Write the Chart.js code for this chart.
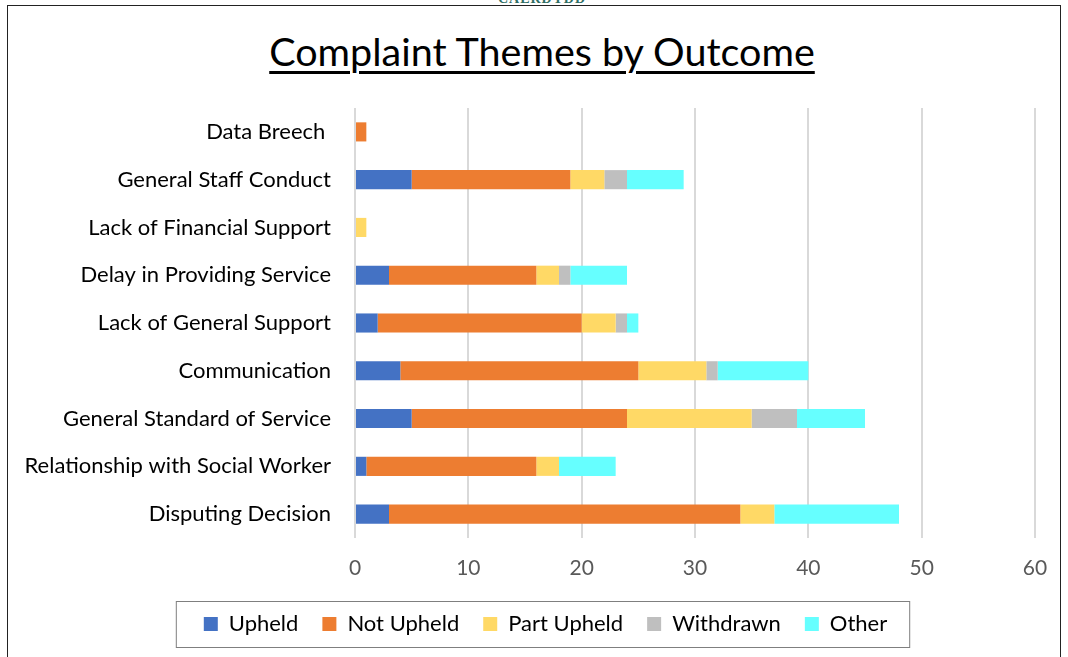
<!DOCTYPE html>
<html>
<head>
<meta charset="utf-8">
<script src="https://cdn.jsdelivr.net/npm/chart.js@4"></script>
<style>
  body { margin: 0; background: #fff; font-family: Lato, sans-serif; }
  #wrap { position: relative; width: 1068px; height: 657px; overflow: hidden; }
  #frame { position: absolute; left: 7px; top: 5px; width: 1052px; height: 700px; border: 1.5px solid #222; }
  #org { position: absolute; left: 0; width: 1084px; top: -9px; text-align: center; font-family: "Liberation Serif", serif; font-size: 14px; font-weight: bold; color: #2f6e64; letter-spacing: 1px; }
  #title { position: absolute; left: 0; width: 1084px; top: 27px; text-align: center; font-size: 39.5px; color: #000; text-decoration: underline; text-decoration-thickness: 3px; text-underline-offset: 5px; }
  canvas { position: absolute; left: 0; top: 0; }
</style>
</head>
<body>
<div id="wrap">
  <div id="org">CAERDYDD</div>
  <div id="frame"></div>
  <div id="title">Complaint Themes by Outcome</div>
  <canvas id="outcomeChart" width="1068" height="657"></canvas>
</div>
<script>
const categories = ['Data Breech ', 'General Staff Conduct', 'Lack of Financial Support', 'Delay in Providing Service',
    'Lack of General Support', 'Communication', 'General Standard of Service', 'Relationship with Social Worker', 'Disputing Decision'];
const upheld     = [0, 5, 0, 3, 2, 4, 5, 1, 3];
const notUpheld  = [1, 14, 0, 13, 18, 21, 19, 15, 31];
const partUpheld = [0, 3, 1, 2, 3, 6, 11, 2, 3];
const withdrawn  = [0, 2, 0, 1, 1, 1, 4, 0, 0];
const other      = [0, 5, 0, 5, 1, 8, 6, 5, 11];
const xTicks = [0, 10, 20, 30, 40, 50, 60];

const LEGEND_SHIFT = 28;

// move the legend under the page centre and draw the box round it
const legendBorder = {
    id: 'legendBorder',
    afterUpdate(chart) {
        const lg = chart.legend;
        lg.left += LEGEND_SHIFT;
        lg.right += LEGEND_SHIFT;
        lg.legendHitBoxes.forEach(b => { b.left += LEGEND_SHIFT; });
    },
    afterDraw(chart) {
        const boxes = chart.legend.legendHitBoxes;
        if (!boxes || !boxes.length) return;
        const left = Math.min(...boxes.map(b => b.left)) - 28;
        const right = Math.max(...boxes.map(b => b.left + b.width)) + 22;
        const top = boxes[0].top - 12;
        const bottom = boxes[0].top + boxes[0].height + 12;
        const ctx = chart.ctx;
        ctx.save();
        ctx.strokeStyle = '#7f7f7f';
        ctx.lineWidth = 1;
        ctx.strokeRect(left + 0.5, top + 0.5, right - left, bottom - top);
        ctx.restore();
    }
};

function makeSet(label, data, color) {
    return { label: label, data: data, backgroundColor: color, borderWidth: 0, barPercentage: 0.4, categoryPercentage: 1 };
}

window.onload = function () {
    const ctx = document.getElementById('outcomeChart').getContext('2d');
    new Chart(ctx, {
        type: 'bar',
        data: {
            labels: categories,
            datasets: [
                makeSet('Upheld', upheld, '#4472C4'),
                makeSet('Not Upheld', notUpheld, '#ED7D31'),
                makeSet('Part Upheld', partUpheld, '#FFD966'),
                makeSet('Withdrawn', withdrawn, '#BFBFBF'),
                makeSet('Other', other, '#66FFFF')
            ]
        },
        options: {
            indexAxis: 'y',
            responsive: false,
            animation: false,
            layout: { padding: { top: 108, right: 33, bottom: 12, left: 0 } },
            scales: {
                x: {
                    stacked: true,
                    min: 0,
                    max: 60,
                    afterBuildTicks: s => { s.ticks = xTicks.map(v => ({ value: v })); },
                    grid: { color: '#d9d9d9', lineWidth: 2, drawTicks: false },
                    border: { display: false },
                    ticks: { color: '#595959', font: { family: 'Lato', size: 21 }, padding: 18 },
                    afterFit: s => { s.height = 51; }
                },
                y: {
                    stacked: true,
                    grid: { display: false, drawTicks: false },
                    border: { display: false },
                    ticks: { color: '#000', font: { family: 'Lato', size: 22 }, padding: 24 },
                    afterFit: s => { s.width = 355; }
                }
            },
            plugins: {
                legend: {
                    position: 'bottom',
                    labels: { color: '#000', font: { family: 'Lato', size: 22 }, boxWidth: 14, boxHeight: 14, padding: 24 }
                },
                tooltip: { enabled: false }
            }
        },
        plugins: [legendBorder]
    });
};
</script>
</body>
</html>
